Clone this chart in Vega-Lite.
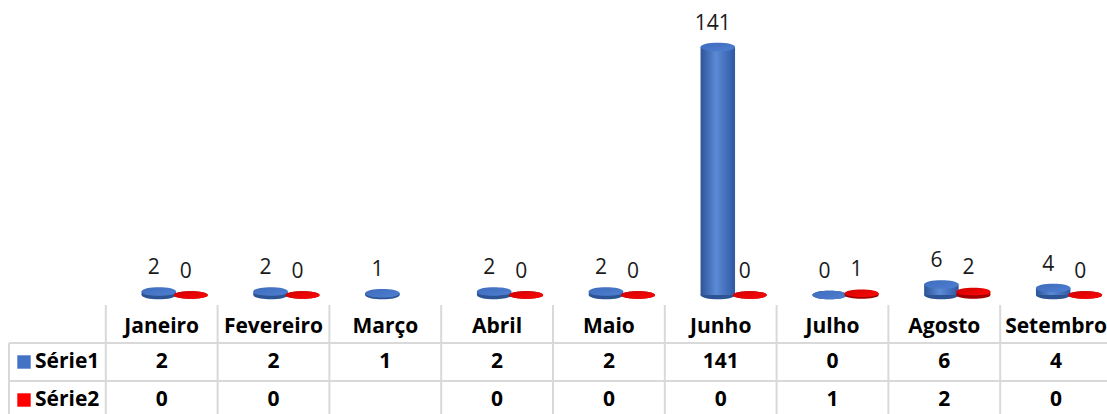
{
  "$schema": "https://vega.github.io/schema/vega-lite/v6.json",
  "padding": 0,
  "spacing": 0,
  "background": "white",
  "config": {"view": {"stroke": null}, "font": "Open Sans", "text": {"font": "Open Sans"}},
  "data": {"values": [
    {"mes": "Janeiro", "serie": "Série1", "valor": 2},
    {"mes": "Janeiro", "serie": "Série2", "valor": 0},
    {"mes": "Fevereiro", "serie": "Série1", "valor": 2},
    {"mes": "Fevereiro", "serie": "Série2", "valor": 0},
    {"mes": "Março", "serie": "Série1", "valor": 1},
    {"mes": "Abril", "serie": "Série1", "valor": 2},
    {"mes": "Abril", "serie": "Série2", "valor": 0},
    {"mes": "Maio", "serie": "Série1", "valor": 2},
    {"mes": "Maio", "serie": "Série2", "valor": 0},
    {"mes": "Junho", "serie": "Série1", "valor": 141},
    {"mes": "Junho", "serie": "Série2", "valor": 0},
    {"mes": "Julho", "serie": "Série1", "valor": 0},
    {"mes": "Julho", "serie": "Série2", "valor": 1},
    {"mes": "Agosto", "serie": "Série1", "valor": 6},
    {"mes": "Agosto", "serie": "Série2", "valor": 2},
    {"mes": "Setembro", "serie": "Série1", "valor": 4},
    {"mes": "Setembro", "serie": "Série2", "valor": 0}
  ]},
  "vconcat": [
    {
      "width": 1107,
      "height": 304,
      "encoding": {
        "x": {"field": "mes", "type": "nominal", "axis": null,
              "scale": {"domain": ["_", "Janeiro", "Fevereiro", "Março", "Abril", "Maio", "Junho", "Julho", "Agosto", "Setembro"],
                        "range": [-6, 1112], "paddingInner": 0, "paddingOuter": 0}},
        "xOffset": {"field": "serie", "type": "nominal",
                    "scale": {"domain": ["Série1", "Série2"], "range": [37, 101], "paddingInner": 0, "paddingOuter": 0}},
        "y": {"field": "valor", "type": "quantitative", "axis": null,
              "scale": {"domain": [-5.12, 167.7], "zero": false, "nice": false}}
      },
      "layer": [
        {
          "transform": [{"filter": "datum.serie == 'Série1'"}],
          "mark": {"type": "point", "filled": true, "opacity": 1, "size": 1190, "strokeWidth": 0, "color": "#2c5394",
                   "shape": "M-1,0 C-1,-0.33 1,-0.33 1,0 C1,0.33 -1,0.33 -1,0 Z"},
          "encoding": {"y": {"datum": 0, "type": "quantitative"}}
        },
        {
          "transform": [{"filter": "datum.serie == 'Série1'"}],
          "mark": {"type": "bar", "width": 34.5,
                   "color": {"gradient": "linear", "x1": 0, "y1": 0, "x2": 1, "y2": 0,
                             "stops": [{"offset": 0, "color": "#2d5497"}, {"offset": 0.45, "color": "#5b8ad6"}, {"offset": 1, "color": "#2f58a3"}]}},
          "encoding": {"y2": {"datum": 0}}
        },
        {
          "transform": [{"filter": "datum.serie == 'Série1'"}],
          "mark": {"type": "point", "filled": true, "opacity": 1, "size": 1190, "strokeWidth": 0,
                   "color": {"gradient": "linear", "x1": 0, "y1": 0, "x2": 1, "y2": 1,
                             "stops": [{"offset": 0, "color": "#3e6cbd"}, {"offset": 1, "color": "#4f7fd1"}]},
                   "shape": "M-1,0 C-1,-0.33 1,-0.33 1,0 C1,0.33 -1,0.33 -1,0 Z"}
        },
        {
          "transform": [{"filter": "datum.serie == 'Série2'"}],
          "mark": {"type": "point", "filled": true, "opacity": 1, "size": 1156, "strokeWidth": 0, "color": "#a00000",
                   "shape": "M-1,0 C-1,-0.3 1,-0.3 1,0 C1,0.3 -1,0.3 -1,0 Z"},
          "encoding": {"y": {"datum": 0, "type": "quantitative"}}
        },
        {
          "transform": [{"filter": "datum.serie == 'Série2'"}],
          "mark": {"type": "bar", "width": 34,
                   "color": {"gradient": "linear", "x1": 0, "y1": 0, "x2": 1, "y2": 0,
                             "stops": [{"offset": 0, "color": "#b00000"}, {"offset": 0.45, "color": "#f00000"}, {"offset": 1, "color": "#b80000"}]}},
          "encoding": {"y2": {"datum": 0}}
        },
        {
          "transform": [{"filter": "datum.serie == 'Série2'"}],
          "mark": {"type": "point", "filled": true, "opacity": 1, "size": 1156, "strokeWidth": 0,
                   "color": {"gradient": "linear", "x1": 0, "y1": 0, "x2": 1, "y2": 1,
                             "stops": [{"offset": 0, "color": "#d00000"}, {"offset": 1, "color": "#ff0808"}]},
                   "shape": "M-1,0 C-1,-0.3 1,-0.3 1,0 C1,0.3 -1,0.3 -1,0 Z"}
        },
        {
          "mark": {"type": "text", "fontSize": 21, "color": "#1a1a1a", "dy": -23, "dx": -5, "baseline": "middle"},
          "encoding": {"text": {"field": "valor", "type": "quantitative"}}
        }
      ]
    },
    {
      "width": 1107,
      "height": 114,
      "encoding": {
        "x": {"field": "mes", "type": "nominal", "axis": null,
              "scale": {"domain": ["_", "Janeiro", "Fevereiro", "Março", "Abril", "Maio", "Junho", "Julho", "Agosto", "Setembro"],
                        "range": [-6, 1112], "paddingInner": 0, "paddingOuter": 0}},
        "y": {"field": "serie", "type": "nominal", "axis": null,
              "scale": {"domain": ["Mês", "Série1", "Série2"], "paddingInner": 0, "paddingOuter": 0}}
      },
      "layer": [
        {
          "transform": [{"filter": "datum.serie == 'Série1'"}],
          "mark": {"type": "rule", "color": "#d9d9d9", "strokeWidth": 2},
          "encoding": {"x": {"field": "mes", "type": "nominal", "bandPosition": 0}, "y": null}
        },
        {
          "transform": [{"filter": "datum.mes == 'Janeiro'"}],
          "mark": {"type": "rule", "color": "#d9d9d9", "strokeWidth": 2, "xOffset": 15},
          "encoding": {"y": {"field": "serie", "type": "nominal", "bandPosition": 0},
                       "x": {"datum": "_", "bandPosition": 0},
                       "x2": {"datum": "Setembro", "bandPosition": 1}}
        },
        {
          "transform": [{"filter": "datum.mes == 'Janeiro' && datum.serie == 'Série1'"}],
          "mark": {"type": "rule", "color": "#d9d9d9", "strokeWidth": 2, "xOffset": 15},
          "encoding": {"x": {"datum": "_", "bandPosition": 0},
                       "y": {"datum": "Série1", "bandPosition": 0},
                       "y2": {"datum": "Série2", "bandPosition": 1}}
        },
        {
          "transform": [{"filter": "datum.serie == 'Série1'"}],
          "mark": {"type": "text", "fontSize": 21, "fontWeight": "bold", "color": "#000000", "baseline": "middle", "dy": 3},
          "encoding": {"text": {"field": "mes"}, "y": {"datum": "Mês"}}
        },
        {
          "mark": {"type": "text", "fontSize": 21, "fontWeight": "bold", "color": "#000000", "baseline": "middle", "dy": 0},
          "encoding": {"text": {"field": "valor", "type": "quantitative"}}
        },
        {
          "transform": [{"filter": "datum.mes == 'Janeiro'"}],
          "mark": {"type": "point", "shape": "square", "filled": true, "opacity": 1, "size": 180, "xOffset": 30},
          "encoding": {"x": {"datum": "_", "bandPosition": 0},
                       "color": {"field": "serie", "type": "nominal", "legend": null,
                                 "scale": {"domain": ["Série1", "Série2"], "range": ["#4472C4", "#FF0000"]}}}
        },
        {
          "transform": [{"filter": "datum.mes == 'Janeiro'"}],
          "mark": {"type": "text", "fontSize": 21, "fontWeight": "bold", "color": "#000000", "align": "left", "baseline": "middle", "xOffset": 41, "dy": 0},
          "encoding": {"x": {"datum": "_", "bandPosition": 0}, "text": {"field": "serie"}}
        }
      ]
    }
  ]
}
